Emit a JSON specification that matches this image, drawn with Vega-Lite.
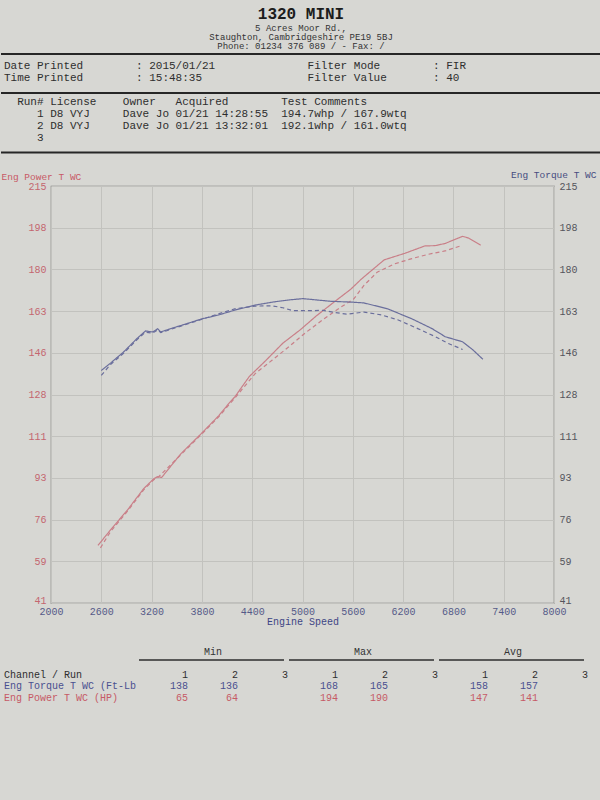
{
  "$schema": "https://vega.github.io/schema/vega-lite/v6.json",
  "background": "#d7d7d3",
  "padding": 0,
  "spacing": 0,
  "config": {
    "view": {"stroke": null},
    "font": "Liberation Mono",
    "text": {"font": "Liberation Mono"},
    "axis": {"labelFont": "Liberation Mono", "titleFont": "Liberation Mono"}
  },
  "datasets": {
    "banner": [
      {"line": 0, "col": 45, "text": "1320 MINI"},
      {"line": 1, "col": 45, "text": "5 Acres Moor Rd.,"},
      {"line": 2, "col": 45, "text": "Staughton, Cambridgeshire  PE19 5BJ"},
      {"line": 3, "col": 45, "text": "Phone: 01234 376 089 /  - Fax:  /"}
    ],
    "header": [
      {"kind": "rule", "line": 0},
      {"kind": "rule", "line": 3.25},
      {"kind": "rule", "line": 8.2},
      {"kind": "text", "line": 1, "col": 0, "text": "Date Printed"},
      {"kind": "text", "line": 1, "col": 20, "text": ": 2015/01/21"},
      {"kind": "text", "line": 1, "col": 46, "text": "Filter Mode"},
      {"kind": "text", "line": 1, "col": 65, "text": ": FIR"},
      {"kind": "text", "line": 2, "col": 0, "text": "Time Printed"},
      {"kind": "text", "line": 2, "col": 20, "text": ": 15:48:35"},
      {"kind": "text", "line": 2, "col": 46, "text": "Filter Value"},
      {"kind": "text", "line": 2, "col": 65, "text": ": 40"},
      {"kind": "text", "line": 4, "col": 2, "text": "Run#"},
      {"kind": "text", "line": 4, "col": 7, "text": "License"},
      {"kind": "text", "line": 4, "col": 18, "text": "Owner"},
      {"kind": "text", "line": 4, "col": 26, "text": "Acquired"},
      {"kind": "text", "line": 4, "col": 42, "text": "Test Comments"},
      {"kind": "text", "line": 5, "col": 5, "text": "1"},
      {"kind": "text", "line": 5, "col": 7, "text": "D8 VYJ"},
      {"kind": "text", "line": 5, "col": 18, "text": "Dave Jo"},
      {"kind": "text", "line": 5, "col": 26, "text": "01/21 14:28:55"},
      {"kind": "text", "line": 5, "col": 42, "text": "194.7whp / 167.9wtq"},
      {"kind": "text", "line": 6, "col": 5, "text": "2"},
      {"kind": "text", "line": 6, "col": 7, "text": "D8 VYJ"},
      {"kind": "text", "line": 6, "col": 18, "text": "Dave Jo"},
      {"kind": "text", "line": 6, "col": 26, "text": "01/21 13:32:01"},
      {"kind": "text", "line": 6, "col": 42, "text": "192.1whp / 161.0wtq"},
      {"kind": "text", "line": 7, "col": 5, "text": "3"}
    ],
    "curves": [
      {"channel": "Torque", "run": "1", "rpm": 2600, "value": 138},
      {"channel": "Torque", "run": "1", "rpm": 2710, "value": 141.1},
      {"channel": "Torque", "run": "1", "rpm": 2865, "value": 145.7},
      {"channel": "Torque", "run": "1", "rpm": 3030, "value": 151.5},
      {"channel": "Torque", "run": "1", "rpm": 3127, "value": 154.5},
      {"channel": "Torque", "run": "1", "rpm": 3212, "value": 154.1},
      {"channel": "Torque", "run": "1", "rpm": 3273, "value": 155.4},
      {"channel": "Torque", "run": "1", "rpm": 3309, "value": 154.1},
      {"channel": "Torque", "run": "1", "rpm": 3430, "value": 155.5},
      {"channel": "Torque", "run": "1", "rpm": 3588, "value": 157.2},
      {"channel": "Torque", "run": "1", "rpm": 3794, "value": 159.5},
      {"channel": "Torque", "run": "1", "rpm": 4000, "value": 161.2},
      {"channel": "Torque", "run": "1", "rpm": 4200, "value": 163.3},
      {"channel": "Torque", "run": "1", "rpm": 4436, "value": 165.3},
      {"channel": "Torque", "run": "1", "rpm": 4650, "value": 166.6},
      {"channel": "Torque", "run": "1", "rpm": 4848, "value": 167.5},
      {"channel": "Torque", "run": "1", "rpm": 5006, "value": 168.0},
      {"channel": "Torque", "run": "1", "rpm": 5333, "value": 166.9},
      {"channel": "Torque", "run": "1", "rpm": 5612, "value": 166.5},
      {"channel": "Torque", "run": "1", "rpm": 5733, "value": 166.2},
      {"channel": "Torque", "run": "1", "rpm": 6012, "value": 163.8},
      {"channel": "Torque", "run": "1", "rpm": 6303, "value": 159.6},
      {"channel": "Torque", "run": "1", "rpm": 6545, "value": 155.5},
      {"channel": "Torque", "run": "1", "rpm": 6703, "value": 152.1},
      {"channel": "Torque", "run": "1", "rpm": 6909, "value": 150.0},
      {"channel": "Torque", "run": "1", "rpm": 7030, "value": 146.7},
      {"channel": "Torque", "run": "1", "rpm": 7152, "value": 142.7},
      {"channel": "Torque", "run": "2", "rpm": 2600, "value": 136},
      {"channel": "Torque", "run": "2", "rpm": 2710, "value": 140.5},
      {"channel": "Torque", "run": "2", "rpm": 2865, "value": 145.2},
      {"channel": "Torque", "run": "2", "rpm": 3030, "value": 151},
      {"channel": "Torque", "run": "2", "rpm": 3127, "value": 154},
      {"channel": "Torque", "run": "2", "rpm": 3212, "value": 153.6},
      {"channel": "Torque", "run": "2", "rpm": 3273, "value": 155},
      {"channel": "Torque", "run": "2", "rpm": 3309, "value": 153.8},
      {"channel": "Torque", "run": "2", "rpm": 3430, "value": 155.2},
      {"channel": "Torque", "run": "2", "rpm": 3588, "value": 157},
      {"channel": "Torque", "run": "2", "rpm": 3794, "value": 159.3},
      {"channel": "Torque", "run": "2", "rpm": 4035, "value": 162.1},
      {"channel": "Torque", "run": "2", "rpm": 4200, "value": 163.8},
      {"channel": "Torque", "run": "2", "rpm": 4435, "value": 164.9},
      {"channel": "Torque", "run": "2", "rpm": 4640, "value": 165},
      {"channel": "Torque", "run": "2", "rpm": 4765, "value": 164.2},
      {"channel": "Torque", "run": "2", "rpm": 4885, "value": 163},
      {"channel": "Torque", "run": "2", "rpm": 5090, "value": 163},
      {"channel": "Torque", "run": "2", "rpm": 5250, "value": 163.1},
      {"channel": "Torque", "run": "2", "rpm": 5370, "value": 162.3},
      {"channel": "Torque", "run": "2", "rpm": 5525, "value": 161.5},
      {"channel": "Torque", "run": "2", "rpm": 5735, "value": 162.4},
      {"channel": "Torque", "run": "2", "rpm": 5940, "value": 161.2},
      {"channel": "Torque", "run": "2", "rpm": 6135, "value": 159.2},
      {"channel": "Torque", "run": "2", "rpm": 6375, "value": 155.5},
      {"channel": "Torque", "run": "2", "rpm": 6580, "value": 152.2},
      {"channel": "Torque", "run": "2", "rpm": 6740, "value": 149.3},
      {"channel": "Torque", "run": "2", "rpm": 6910, "value": 146.8},
      {"channel": "Power", "run": "1", "rpm": 2560, "value": 65},
      {"channel": "Power", "run": "1", "rpm": 2710, "value": 71.5},
      {"channel": "Power", "run": "1", "rpm": 2912, "value": 79.8},
      {"channel": "Power", "run": "1", "rpm": 3105, "value": 88.7},
      {"channel": "Power", "run": "1", "rpm": 3225, "value": 92.8},
      {"channel": "Power", "run": "1", "rpm": 3270, "value": 93.7},
      {"channel": "Power", "run": "1", "rpm": 3320, "value": 93.4},
      {"channel": "Power", "run": "1", "rpm": 3550, "value": 103.3},
      {"channel": "Power", "run": "1", "rpm": 3790, "value": 111.6},
      {"channel": "Power", "run": "1", "rpm": 4000, "value": 119.1},
      {"channel": "Power", "run": "1", "rpm": 4120, "value": 124.2},
      {"channel": "Power", "run": "1", "rpm": 4195, "value": 127.1},
      {"channel": "Power", "run": "1", "rpm": 4365, "value": 135.5},
      {"channel": "Power", "run": "1", "rpm": 4560, "value": 142.1},
      {"channel": "Power", "run": "1", "rpm": 4765, "value": 149.4},
      {"channel": "Power", "run": "1", "rpm": 4970, "value": 154.9},
      {"channel": "Power", "run": "1", "rpm": 5165, "value": 160.8},
      {"channel": "Power", "run": "1", "rpm": 5370, "value": 166.4},
      {"channel": "Power", "run": "1", "rpm": 5575, "value": 171.9},
      {"channel": "Power", "run": "1", "rpm": 5700, "value": 176.1},
      {"channel": "Power", "run": "1", "rpm": 5975, "value": 184.2},
      {"channel": "Power", "run": "1", "rpm": 6220, "value": 186.9},
      {"channel": "Power", "run": "1", "rpm": 6460, "value": 190},
      {"channel": "Power", "run": "1", "rpm": 6580, "value": 190.1},
      {"channel": "Power", "run": "1", "rpm": 6700, "value": 191},
      {"channel": "Power", "run": "1", "rpm": 6910, "value": 194},
      {"channel": "Power", "run": "1", "rpm": 6980, "value": 193.3},
      {"channel": "Power", "run": "1", "rpm": 7125, "value": 190.3},
      {"channel": "Power", "run": "2", "rpm": 2590, "value": 64},
      {"channel": "Power", "run": "2", "rpm": 2710, "value": 70.8},
      {"channel": "Power", "run": "2", "rpm": 2912, "value": 79.3},
      {"channel": "Power", "run": "2", "rpm": 3105, "value": 88.2},
      {"channel": "Power", "run": "2", "rpm": 3225, "value": 92.4},
      {"channel": "Power", "run": "2", "rpm": 3270, "value": 93.2},
      {"channel": "Power", "run": "2", "rpm": 3550, "value": 102.9},
      {"channel": "Power", "run": "2", "rpm": 3790, "value": 111.2},
      {"channel": "Power", "run": "2", "rpm": 4000, "value": 118.7},
      {"channel": "Power", "run": "2", "rpm": 4195, "value": 126.6},
      {"channel": "Power", "run": "2", "rpm": 4435, "value": 136.7},
      {"channel": "Power", "run": "2", "rpm": 4640, "value": 142.4},
      {"channel": "Power", "run": "2", "rpm": 4850, "value": 148.3},
      {"channel": "Power", "run": "2", "rpm": 5040, "value": 153.9},
      {"channel": "Power", "run": "2", "rpm": 5250, "value": 159.4},
      {"channel": "Power", "run": "2", "rpm": 5455, "value": 164.4},
      {"channel": "Power", "run": "2", "rpm": 5610, "value": 167.8},
      {"channel": "Power", "run": "2", "rpm": 5735, "value": 173.6},
      {"channel": "Power", "run": "2", "rpm": 5890, "value": 179},
      {"channel": "Power", "run": "2", "rpm": 6095, "value": 182.5},
      {"channel": "Power", "run": "2", "rpm": 6305, "value": 184.7},
      {"channel": "Power", "run": "2", "rpm": 6500, "value": 186.5},
      {"channel": "Power", "run": "2", "rpm": 6700, "value": 187.9},
      {"channel": "Power", "run": "2", "rpm": 6885, "value": 190}
    ],
    "footer": [
      {"kind": "group", "row": 0, "col": 1.5, "text": "Min"},
      {"kind": "group", "row": 0, "col": 4.5, "text": "Max"},
      {"kind": "group", "row": 0, "col": 7.5, "text": "Avg"},
      {"kind": "underline", "row": 0.7, "from": 1, "to": 3},
      {"kind": "underline", "row": 0.7, "from": 4, "to": 6},
      {"kind": "underline", "row": 0.7, "from": 7, "to": 9},
      {"kind": "label", "row": 2, "col": 0, "series": "run", "text": "Channel / Run"},
      {"kind": "label", "row": 3, "col": 0, "series": "torque", "text": "Eng Torque T WC (Ft-Lb"},
      {"kind": "label", "row": 4, "col": 0, "series": "power", "text": "Eng Power T WC (HP)"},
      {"kind": "num", "row": 2, "col": 1, "series": "run", "text": "1"},
      {"kind": "num", "row": 2, "col": 2, "series": "run", "text": "2"},
      {"kind": "num", "row": 2, "col": 3, "series": "run", "text": "3"},
      {"kind": "num", "row": 2, "col": 4, "series": "run", "text": "1"},
      {"kind": "num", "row": 2, "col": 5, "series": "run", "text": "2"},
      {"kind": "num", "row": 2, "col": 6, "series": "run", "text": "3"},
      {"kind": "num", "row": 2, "col": 7, "series": "run", "text": "1"},
      {"kind": "num", "row": 2, "col": 8, "series": "run", "text": "2"},
      {"kind": "num", "row": 2, "col": 9, "series": "run", "text": "3"},
      {"kind": "num", "row": 3, "col": 1, "series": "torque", "text": "138"},
      {"kind": "num", "row": 3, "col": 2, "series": "torque", "text": "136"},
      {"kind": "num", "row": 3, "col": 4, "series": "torque", "text": "168"},
      {"kind": "num", "row": 3, "col": 5, "series": "torque", "text": "165"},
      {"kind": "num", "row": 3, "col": 7, "series": "torque", "text": "158"},
      {"kind": "num", "row": 3, "col": 8, "series": "torque", "text": "157"},
      {"kind": "num", "row": 4, "col": 1, "series": "power", "text": "65"},
      {"kind": "num", "row": 4, "col": 2, "series": "power", "text": "64"},
      {"kind": "num", "row": 4, "col": 4, "series": "power", "text": "194"},
      {"kind": "num", "row": 4, "col": 5, "series": "power", "text": "190"},
      {"kind": "num", "row": 4, "col": 7, "series": "power", "text": "147"},
      {"kind": "num", "row": 4, "col": 8, "series": "power", "text": "141"}
    ]
  },
  "vconcat": [
    {
      "width": 550,
      "height": 168,
      "resolve": {"scale": {"y": "independent"}},
      "layer": [
        {
          "data": {"name": "banner"},
          "transform": [{"filter": "datum.line == 0"}],
          "mark": {"type": "text", "fontSize": 16, "fontWeight": "bold", "align": "center", "baseline": "middle", "color": "#1c1c1c", "dy": -5},
          "encoding": {
            "x": {"field": "col", "type": "quantitative", "scale": {"domain": [-0.45, 90.45], "range": [-50, 550], "nice": false, "zero": false}, "axis": null},
            "y": {"field": "line", "type": "quantitative", "scale": {"domain": [-2.111, 16.556], "nice": false, "zero": false, "reverse": true}, "axis": null},
            "text": {"field": "text"}
          }
        },
        {
          "data": {"name": "banner"},
          "transform": [{"filter": "datum.line > 0"}],
          "mark": {"type": "text", "fontSize": 9, "align": "center", "baseline": "middle", "color": "#333333"},
          "encoding": {
            "x": {"field": "col", "type": "quantitative", "scale": {"domain": [-0.45, 90.45], "range": [-50, 550], "nice": false, "zero": false}, "axis": null},
            "y": {"field": "line", "type": "quantitative", "scale": {"domain": [-2.111, 16.556], "nice": false, "zero": false, "reverse": true}, "axis": null},
            "text": {"field": "text"}
          }
        },
        {
          "data": {"name": "header"},
          "transform": [{"filter": "datum.kind == 'rule'"}],
          "mark": {"type": "rule", "color": "#262626", "strokeWidth": 2},
          "encoding": {
            "x": {"datum": -0.45, "type": "quantitative", "scale": {"domain": [-0.45, 90.45], "range": [-50, 550], "nice": false, "zero": false}, "axis": null},
            "x2": {"datum": 90.45},
            "y": {"field": "line", "type": "quantitative", "scale": {"domain": [-4.5, 9.5], "nice": false, "zero": false, "reverse": true}, "axis": null}
          }
        },
        {
          "data": {"name": "header"},
          "transform": [{"filter": "datum.kind == 'text'"}],
          "mark": {"type": "text", "fontSize": 11, "align": "left", "baseline": "middle", "color": "#2e2e2e"},
          "encoding": {
            "x": {"field": "col", "type": "quantitative", "scale": {"domain": [-0.45, 90.45], "range": [-50, 550], "nice": false, "zero": false}, "axis": null},
            "y": {"field": "line", "type": "quantitative", "scale": {"domain": [-4.5, 9.5], "nice": false, "zero": false, "reverse": true}, "axis": null},
            "text": {"field": "text"}
          }
        }
      ]
    },
    {
      "width": 503,
      "height": 417,
      "view": {"stroke": "#7a7a78", "strokeWidth": 1.2},
      "data": {"name": "curves"},
      "layer": [
        {
          "transform": [{"filter": "datum.channel == 'Power'"}],
          "mark": {"type": "line", "color": "#c97f88", "strokeWidth": 1.2},
          "encoding": {
            "x": {
              "field": "rpm", "type": "quantitative",
              "scale": {"domain": [2000, 8000], "nice": false, "zero": false},
              "axis": {
                "values": [2000, 2600, 3200, 3800, 4400, 5000, 5600, 6200, 6800, 7400, 8000],
                "format": "d", "title": "Engine Speed", "titleColor": "#3d4585", "titleFontSize": 10,
                "titleFontWeight": "normal", "titlePadding": 0, "labelColor": "#555a88", "labelFontSize": 10,
                "labelPadding": 3, "tickSize": 0, "domain": false, "gridColor": "#c2c2be", "labelFlush": false
              }
            },
            "y": {
              "field": "value", "type": "quantitative",
              "scale": {"domain": [41, 215], "nice": false, "zero": false},
              "axis": {
                "values": [41, 58.4, 75.8, 93.2, 110.6, 128, 145.4, 162.8, 180.2, 197.6, 215],
                "labelExpr": "['41','59','76','93','111','128','146','163','180','198','215'][round((datum.value-41)/17.4)]",
                "labelBaseline": {"condition": {"test": "datum.value <= 41", "value": "alphabetic"}, "value": "middle"},
                "labelColor": "#c4666f", "labelFontSize": 10, "labelPadding": 5, "tickSize": 0, "domain": false,
                "gridColor": "#c2c2be", "title": "Eng Power T WC", "titleColor": "#c85a66", "titleFontSize": 9.5,
                "titleFontWeight": "normal", "titleAngle": 0, "titleAlign": "left", "titleBaseline": "middle",
                "titleX": -50, "titleY": -10
              }
            },
            "strokeDash": {"field": "run", "type": "nominal", "scale": {"domain": ["1", "2"], "range": [[1, 0], [4, 3]]}, "legend": null}
          }
        },
        {
          "transform": [{"filter": "datum.channel == 'Torque'"}],
          "mark": {"type": "line", "color": "#6a6e9c", "strokeWidth": 1.2},
          "encoding": {
            "x": {"field": "rpm", "type": "quantitative", "scale": {"domain": [2000, 8000], "nice": false, "zero": false}},
            "y": {
              "field": "value", "type": "quantitative",
              "scale": {"domain": [41, 215], "nice": false, "zero": false},
              "axis": {
                "orient": "right", "grid": false,
                "values": [41, 58.4, 75.8, 93.2, 110.6, 128, 145.4, 162.8, 180.2, 197.6, 215],
                "labelExpr": "['41','59','76','93','111','128','146','163','180','198','215'][round((datum.value-41)/17.4)]",
                "labelBaseline": {"condition": {"test": "datum.value <= 41", "value": "alphabetic"}, "value": "middle"},
                "labelColor": "#55555c", "labelFontSize": 10, "labelPadding": 5, "tickSize": 0, "domain": false,
                "title": "Eng Torque T WC", "titleColor": "#464c80", "titleFontSize": 9.5, "titleFontWeight": "normal",
                "titleAngle": 0, "titleAlign": "right", "titleBaseline": "middle", "titleX": 42, "titleY": -12
              }
            },
            "strokeDash": {"field": "run", "type": "nominal", "scale": {"domain": ["1", "2"], "range": [[1, 0], [4, 3]]}, "legend": null}
          }
        }
      ],
      "resolve": {"axis": {"y": "independent"}}
    },
    {
      "width": 550,
      "height": 176,
      "data": {"name": "footer"},
      "layer": [
        {
          "transform": [{"filter": "datum.kind == 'group'"}],
          "mark": {"type": "text", "fontSize": 10, "align": "center", "baseline": "middle", "color": "#333333"},
          "encoding": {
            "x": {"field": "col", "type": "quantitative", "scale": {"domain": [0, 1, 9], "range": [-47, 137, 537], "nice": false, "zero": false}, "axis": null},
            "y": {"field": "row", "type": "quantitative", "scale": {"domain": [-2.17, 13.13], "nice": false, "zero": false, "reverse": true}, "axis": null},
            "text": {"field": "text"}
          }
        },
        {
          "transform": [{"filter": "datum.kind == 'underline'"}],
          "mark": {"type": "rule", "color": "#2e2e2e", "strokeWidth": 1.5, "xOffset": -49, "x2Offset": -4},
          "encoding": {
            "x": {"field": "from", "type": "quantitative", "scale": {"domain": [0, 1, 9], "range": [-47, 137, 537], "nice": false, "zero": false}, "axis": null},
            "x2": {"field": "to"},
            "y": {"field": "row", "type": "quantitative", "scale": {"domain": [-2.17, 13.13], "nice": false, "zero": false, "reverse": true}, "axis": null}
          }
        },
        {
          "transform": [{"filter": "datum.kind == 'label'"}],
          "mark": {"type": "text", "fontSize": 10, "align": "left", "baseline": "middle"},
          "encoding": {
            "x": {"field": "col", "type": "quantitative", "scale": {"domain": [0, 1, 9], "range": [-47, 137, 537], "nice": false, "zero": false}, "axis": null},
            "y": {"field": "row", "type": "quantitative", "scale": {"domain": [-2.17, 13.13], "nice": false, "zero": false, "reverse": true}, "axis": null},
            "text": {"field": "text"},
            "color": {"field": "series", "type": "nominal", "scale": {"domain": ["run", "torque", "power"], "range": ["#2e2e2e", "#4a5090", "#c65a66"]}, "legend": null}
          }
        },
        {
          "transform": [{"filter": "datum.kind == 'num'"}],
          "mark": {"type": "text", "fontSize": 10, "align": "right", "baseline": "middle"},
          "encoding": {
            "x": {"field": "col", "type": "quantitative", "scale": {"domain": [0, 1, 9], "range": [-47, 137, 537], "nice": false, "zero": false}, "axis": null},
            "y": {"field": "row", "type": "quantitative", "scale": {"domain": [-2.17, 13.13], "nice": false, "zero": false, "reverse": true}, "axis": null},
            "text": {"field": "text"},
            "color": {"field": "series", "type": "nominal", "scale": {"domain": ["run", "torque", "power"], "range": ["#2e2e2e", "#3f4475", "#c65a66"]}, "legend": null}
          }
        }
      ]
    }
  ]
}
